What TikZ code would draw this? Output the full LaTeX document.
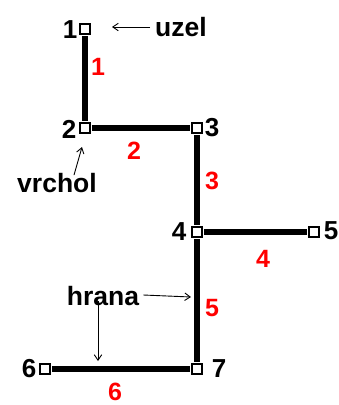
\documentclass[tikz,border=0pt]{standalone}
\usepackage{fontspec}
\setmainfont{Liberation Sans}
\usetikzlibrary{arrows.meta}
\begin{document}
\begin{tikzpicture}[x=1pt,y=-1pt,
  vertex/.style={rectangle, draw=black, fill=white, line width=1.3pt, minimum size=10pt, inner sep=0pt},
  edge/.style={line width=5.5pt, shorten <=1.5pt, shorten >=1.5pt},
  num/.style={font=\bfseries\fontsize{26}{26}\selectfont, inner sep=0pt},
  enum/.style={font=\bfseries\fontsize{25}{25}\selectfont, inner sep=0pt, text=red},
  word/.style={font=\bfseries\fontsize{26.5}{26.5}\selectfont, inner sep=0pt},
  pointer/.style={line width=0.9pt, -{Straight Barb[length=5.5pt,width=7.5pt]}}
]
\useasboundingbox (0,0) rectangle (339,405);

% vertices
\node[vertex] (n1) at (85,29) {};
\node[vertex] (n2) at (85,128) {};
\node[vertex] (n3) at (197,128) {};
\node[vertex] (n4) at (197,232) {};
\node[vertex] (n5) at (314,232) {};
\node[vertex] (n7) at (197,369) {};
\node[vertex] (n6) at (45,369) {};

% edges
\draw[edge] (n1) -- (n2);
\draw[edge] (n2) -- (n3);
\draw[edge] (n3) -- (n4);
\draw[edge] (n4) -- (n5);
\draw[edge] (n4) -- (n7);
\draw[edge] (n7) -- (n6);

% vertex numbers
\node[num] (v1) at (70,30) {1};
\node[num] (v2) at (69,129) {2};
\node[num] (v3) at (212,128) {3};
\node[num] (v4) at (179,232) {4};
\node[num] (v5) at (331,231) {5};
\node[num] (v6) at (29,369) {6};
\node[num] (v7) at (219,369) {7};

% edge numbers
\node[enum] (e1) at (98,67) {1};
\node[enum] (e2) at (134,151) {2};
\node[enum] (e3) at (212,181) {3};
\node[enum] (e4) at (263,259) {4};
\node[enum] (e5) at (212,308) {5};
\node[enum] (e6) at (115,392) {6};

% annotations
\node[word] (uzel) at (181,27) {uzel};
\node[word] (vrchol) at (57,183) {vrchol};
\node[word] (hrana) at (103,296) {hrana};

\coordinate (uzeltip) at (112,27);
\coordinate (vrcholtip) at (82,147);
\coordinate (hranatipA) at (191,297);
\coordinate (hranatipB) at (98,361);

\draw[pointer] ([xshift=-5pt]uzel.west) -- (uzeltip);
\draw[pointer] ([xshift=17pt,yshift=-2pt]vrchol.north) -- (vrcholtip);
\draw[pointer] ([xshift=4pt,yshift=1pt]hrana.east) -- (hranatipA);
\draw[pointer] ([xshift=-5pt,yshift=5pt]hrana.south) -- (hranatipB);
\end{tikzpicture}
\end{document}
